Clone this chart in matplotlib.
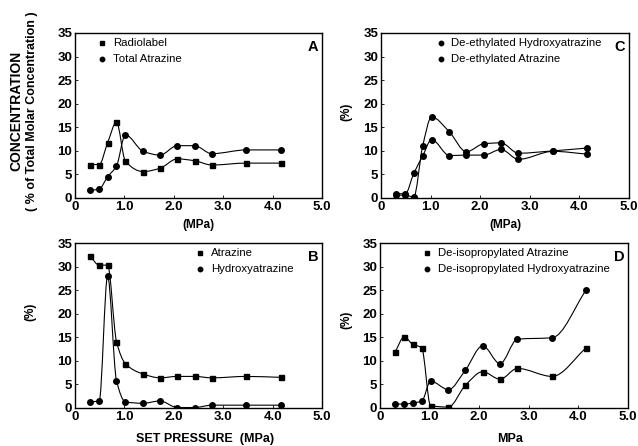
import numpy as np
import matplotlib
matplotlib.use('Agg')
import matplotlib.pyplot as plt
from matplotlib.path import Path
from matplotlib.patches import PathPatch

plt.rcParams['font.family'] = ['Liberation Sans', 'DejaVu Sans']

# set pressures (MPa), shared by all panels
pressure = [0.30, 0.49, 0.66, 0.84, 1.02, 1.38, 1.72, 2.07, 2.42, 2.77, 3.47, 4.16]

# panel A
radiolabel = [7.1, 7.1, 11.7, 16.1, 7.8, 5.6, 6.3, 8.3, 7.9, 7.0, 7.4, 7.4]
total_atrazine = [1.6, 1.9, 4.5, 6.8, 13.4, 9.9, 9.1, 11.1, 11.1, 9.4, 10.2, 10.2]

# panel B
atrazine = [32.3, 30.3, 30.3, 14.1, 9.4, 7.2, 6.4, 6.7, 6.7, 6.4, 6.7, 6.5]
hydroxyatrazine = [1.3, 1.5, 28.0, 5.8, 1.3, 1.0, 1.5, 0.1, 0.1, 0.6, 0.6, 0.6]

# panel C
de_ethyl_hydroxy = [0.6, 0.6, 0.2, 11.0, 17.2, 14.0, 9.8, 11.5, 11.7, 9.5, 10.0, 10.6]
de_ethyl_atrazine = [0.9, 0.9, 5.2, 8.9, 12.4, 9.0, 9.1, 9.1, 10.3, 8.2, 9.9, 9.3]

# panel D
de_iso_atrazine = [11.8, 15.1, 13.5, 12.8, 0.5, 0.2, 4.8, 7.7, 6.1, 8.4, 6.7, 12.8]
de_iso_hydroxy = [0.9, 0.8, 1.1, 1.4, 5.7, 3.9, 8.0, 13.2, 9.4, 14.6, 14.9, 25.1]


def smooth_path(x, y):
    """Monotone cubic (PCHIP) curve through the points as Bezier segments."""
    x = np.asarray(x, float)
    y = np.asarray(y, float)
    h = np.diff(x)
    d = np.diff(y) / h
    m = np.zeros_like(y)
    for i in range(1, len(x) - 1):
        if d[i - 1] * d[i] > 0:
            w1 = 2 * h[i] + h[i - 1]
            w2 = h[i] + 2 * h[i - 1]
            m[i] = (w1 + w2) / (w1 / d[i - 1] + w2 / d[i])
    m[0] = d[0]
    m[-1] = d[-1]
    verts = [(x[0], y[0])]
    codes = [Path.MOVETO]
    for i in range(len(h)):
        verts += [(x[i] + h[i] / 3, y[i] + m[i] * h[i] / 3),
                  (x[i + 1] - h[i] / 3, y[i + 1] - m[i + 1] * h[i] / 3),
                  (x[i + 1], y[i + 1])]
        codes += [Path.CURVE4] * 3
    return Path(verts, codes)


def draw_series(ax, y, marker):
    ax.add_patch(PathPatch(smooth_path(pressure, y), fill=False,
                           edgecolor='black', linewidth=0.8))
    ax.plot(pressure, y, linestyle='none', marker=marker, color='black',
            markersize=3.6 if marker == 's' else 4.0)


def style_axes(ax, letter, labels, markers, legend_x):
    ax.set_xlim(0, 5)
    ax.set_ylim(0, 35)
    ax.set_xticks([0, 1, 2, 3, 4, 5])
    ax.set_xticklabels(['0', '1.0', '2.0', '3.0', '4.0', '5.0'])
    ax.set_yticks(range(0, 36, 5))
    ax.tick_params(direction='in', length=2, width=0.6, labelsize=9.5, pad=2)
    for lab in ax.get_xticklabels() + ax.get_yticklabels():
        lab.set_fontweight('bold')
    for sp in ax.spines.values():
        sp.set_linewidth(1.0)
    ax.text(0.985, 0.955, letter, transform=ax.transAxes, ha='right', va='top',
            fontsize=10.5, fontweight='bold')
    # legend drawn by hand like the original figure
    for row, (lab, mk) in enumerate(zip(labels, markers)):
        yy = 32.9 - row * 3.4
        ax.plot([legend_x], [yy], marker=mk, color='black', markersize=3.2,
                linestyle='none')
        ax.text(legend_x + 0.22, yy, lab, ha='left', va='center', fontsize=8.2)


fig = plt.figure(figsize=(6.38, 4.46), dpi=100)
axA = fig.add_axes([75 / 638, 1 - 198 / 446, 247 / 638, 165 / 446])
axC = fig.add_axes([381 / 638, 1 - 198 / 446, 248 / 638, 165 / 446])
axB = fig.add_axes([75 / 638, 1 - 408 / 446, 247 / 638, 165 / 446])
axD = fig.add_axes([380 / 638, 1 - 408 / 446, 248 / 638, 165 / 446])

draw_series(axA, radiolabel, 's')
draw_series(axA, total_atrazine, 'o')
style_axes(axA, 'A', ['Radiolabel', 'Total Atrazine'], ['s', 'o'], 0.55)

draw_series(axB, atrazine, 's')
draw_series(axB, hydroxyatrazine, 'o')
style_axes(axB, 'B', ['Atrazine', 'Hydroxyatrazine'], ['s', 'o'], 2.53)

draw_series(axC, de_ethyl_hydroxy, 'o')
draw_series(axC, de_ethyl_atrazine, 'o')
style_axes(axC, 'C', ['De-ethylated Hydroxyatrazine', 'De-ethylated Atrazine'],
           ['o', 'o'], 1.2)

draw_series(axD, de_iso_atrazine, 's')
draw_series(axD, de_iso_hydroxy, 'o')
style_axes(axD, 'D', ['De-isopropylated Atrazine', 'De-isopropylated Hydroxyatrazine'],
           ['s', 'o'], 0.95)

# axis titles
fig.text(198 / 638, 1 - 225 / 446, '(MPa)', ha='center', va='center',
         fontsize=8.5, fontweight='bold')
fig.text(505 / 638, 1 - 225 / 446, '(MPa)', ha='center', va='center',
         fontsize=8.5, fontweight='bold')
fig.text(205 / 638, 1 - 439 / 446, 'SET PRESSURE  (MPa)', ha='center', va='center',
         fontsize=9, fontweight='bold')
fig.text(510 / 638, 1 - 439 / 446, 'MPa', ha='center', va='center',
         fontsize=9, fontweight='bold')

fig.text(16 / 638, 1 - 111 / 446, 'CONCENTRATION', rotation=90, ha='center',
         va='center', fontsize=10, fontweight='bold')
fig.text(32 / 638, 1 - 111 / 446, '( % of Total Molar Concentration )', rotation=90,
         ha='center', va='center', fontsize=9, fontweight='bold')
fig.text(30 / 638, 1 - 312 / 446, '(%)', rotation=90, ha='center', va='center',
         fontsize=8.5, fontweight='bold')
fig.text(346 / 638, 1 - 112 / 446, '(%)', rotation=90, ha='center', va='center',
         fontsize=8.5, fontweight='bold')
fig.text(346 / 638, 1 - 320 / 446, '(%)', rotation=90, ha='center', va='center',
         fontsize=8.5, fontweight='bold')

fig.savefig('out.png', dpi=100)
